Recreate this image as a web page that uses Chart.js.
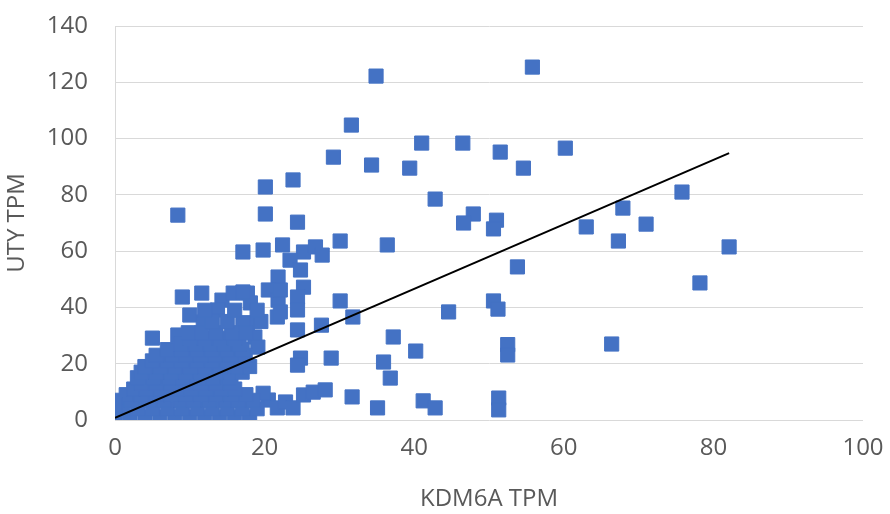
<!DOCTYPE html>
<html>
<head>
<meta charset="utf-8">
<script src="https://cdn.jsdelivr.net/npm/chart.js@4/dist/chart.umd.min.js"></script>
<style>
  html, body { margin: 0; padding: 0; background: #ffffff; }
  #wrap { width: 890px; height: 514px; }
</style>
</head>
<body>
<div id="wrap"><canvas id="chart" width="890" height="514"></canvas></div>
<script>
// KDM6A vs UTY expression (TPM)
const kdm6aTpm = [
  // scattered points
  55.8, 34.9, 31.6, 46.5, 41.0, 60.2, 51.5, 29.2, 34.3, 39.4, 54.6, 23.8, 20.1, 75.8, 42.8,
  67.9, 8.4, 20.1, 47.9, 51.0, 46.6, 24.4, 71.0, 63.0, 50.6, 67.3, 30.1, 36.4, 82.1, 78.2,
  53.8, 30.1, 50.6, 51.2, 44.6, 31.8, 27.6, 37.2, 52.5, 52.5, 66.4, 40.2, 35.9, 36.8, 28.9,
  24.8, 24.4, 31.7, 35.1, 41.2, 42.8, 51.3, 51.3,
  // low band 19-28
  20.5, 21.7, 22.8, 23.8, 25.2, 26.5, 28.1, 19.8,
  // mid cluster
  17.1, 19.8, 22.4, 25.2, 26.8, 27.7, 23.4, 24.8, 21.8, 20.5, 25.2, 21.8, 24.4, 21.7, 24.4,
  24.4, 17.7, 18.1, 17.7, 18.7, 19.1, 9.0, 11.6, 14.3, 15.8, 17.1, 10.0, 11.8, 13.7, 17.1,
  5.0, 8.4, 22.1, 22.1,
  // dense blob near origin
  0.0, 2.0, 4.0, 6.0, 8.0, 10.0, 12.0, 14.0, 16.0, 18.0,
  1.0, 3.0, 5.0, 7.0, 9.0, 11.0, 13.0, 15.0, 17.0, 19.0,
  0.3, 2.2, 4.5, 6.5, 8.8, 10.5, 12.6, 14.8, 16.5, 18.4,
  1.5, 3.5, 5.5, 7.5, 9.5, 11.5, 13.5, 15.5, 17.5,
  2.5, 4.2, 6.2, 8.3, 10.2, 12.2, 14.2, 16.0,
  3.5, 5.5, 7.5, 9.5, 11.5, 13.5, 15.5,
  3.0, 5.1, 7.2, 9.1, 11.3, 13.1, 15.3,
  3.5, 5.5, 7.5, 9.5, 11.5, 13.5, 15.5, 17.0,
  4.0, 6.0, 8.0, 10.1, 12.0, 14.1, 16.4, 18.0,
  5.0, 7.0, 9.0, 11.0, 13.0, 15.0, 17.0,
  5.5, 7.6, 9.5, 11.5, 13.4, 15.5, 17.4,
  7.0, 9.0, 11.0, 13.0, 15.0, 17.0,
  8.8, 10.8, 12.8, 14.6, 16.6,
  10.0, 12.0, 14.0, 16.0,
  9.8, 11.6, 13.5, 15.6, 17.5,
  13.0, 15.0, 19.5,
  12.0, 16.0, 19.0,
  0.0, 0.0, 0.0
];
const utyTpm = [
  125.4, 122.2, 104.8, 98.4, 98.4, 96.6, 95.2, 93.4, 90.6, 89.5, 89.5, 85.3, 82.8, 81.0, 78.5,
  75.3, 72.8, 73.2, 73.2, 71.0, 70.0, 70.3, 69.6, 68.6, 67.9, 63.6, 63.6, 62.2, 61.5, 48.7,
  54.4, 42.3, 42.3, 39.4, 38.4, 36.6, 33.7, 29.5, 26.8, 23.1, 27.0, 24.5, 20.6, 14.9, 22.0,
  22.0, 19.5, 8.2, 4.3, 6.8, 4.3, 7.8, 3.6,
  7.1, 4.3, 6.4, 4.3, 8.9, 9.9, 10.7, 9.5,
  59.7, 60.4, 62.2, 59.7, 61.5, 58.6, 56.8, 53.3, 50.8, 46.2, 47.2, 42.6, 43.7, 36.6, 39.1,
  32.0, 45.1, 41.6, 34.5, 29.5, 25.9, 43.7, 45.1, 42.6, 45.1, 45.5, 37.3, 34.8, 39.1, 34.5,
  29.1, 30.2, 46.2, 38.4,
  1, 1, 1, 1, 1, 1, 1, 1, 1, 1,
  4, 4, 4, 4, 4, 4, 4, 4, 4, 4,
  7, 7, 7, 7, 7, 7, 7, 7, 7, 7,
  9, 9, 9, 9, 9, 9, 9, 9, 9,
  11, 11, 11, 11, 11, 11, 11, 11,
  13, 13, 13, 13, 13, 13, 13,
  15, 15, 15, 15, 15, 15, 15,
  17, 17, 17, 17, 17, 17, 17, 17,
  19, 19, 19, 19, 19, 19, 19, 19,
  21, 21, 21, 21, 21, 21, 21,
  23, 23, 23, 23, 23, 23, 23,
  25, 25, 25, 25, 25, 25,
  27, 27, 27, 27, 27,
  29, 29, 29, 29,
  31, 31, 31, 31, 31,
  35, 35, 35,
  39, 39, 39,
  0, 3, 5.5
];
// linear trendline end points
const trendX = [0, 82.1];
const trendY = [0.8, 94.8];

const xTicks = [0, 20, 40, 60, 80, 100];
const yTicks = [0, 20, 40, 60, 80, 100, 120, 140];

const TEXT = '#595959';
const GRID = '#d9d9d9';
const FONT = { family: '"Open Sans", sans-serif', size: 24 };

const points = kdm6aTpm.map((x, i) => ({ x: x, y: utyTpm[i] }));
const trend = trendX.map((x, i) => ({ x: x, y: trendY[i] }));

new Chart(document.getElementById('chart'), {
  type: 'scatter',
  data: {
    datasets: [
      {
        type: 'line',
        data: trend,
        borderColor: '#000000',
        borderWidth: 2,
        pointRadius: 0,
        fill: false,
        order: 0,
      },
      {
        data: points,
        pointStyle: 'rect',
        pointRadius: 10,
        backgroundColor: '#4472c4',
        borderColor: '#4472c4',
        borderWidth: 1,
        order: 1,
      },
    ],
  },
  options: {
    responsive: false,
    animation: false,
    layout: { padding: { left: 0, right: 27, top: 26, bottom: 0 } },
    plugins: { legend: { display: false }, tooltip: { enabled: false } },
    scales: {
      x: {
        type: 'linear',
        min: 0,
        max: 100,
        afterBuildTicks: (s) => { s.ticks = xTicks.map(v => ({ value: v })); },
        afterFit: (s) => { s.height = 94; s.paddingLeft = 0; s.paddingRight = 0; },
        grid: { display: false, drawTicks: false },
        border: { display: false },
        ticks: { color: TEXT, font: FONT, padding: 14, maxRotation: 0 },
        title: {
          display: true,
          text: 'KDM6A TPM',
          color: TEXT,
          font: FONT,
          padding: { top: 0, bottom: 0 },
        },
      },
      y: {
        type: 'linear',
        min: 0,
        max: 140,
        afterBuildTicks: (s) => { s.ticks = yTicks.map(v => ({ value: v })); },
        afterFit: (s) => { s.width = 115; s.paddingTop = 0; s.paddingBottom = 0; },
        grid: { color: GRID, lineWidth: 1, drawTicks: false },
        border: { display: true, color: GRID, width: 1 },
        ticks: { color: TEXT, font: FONT, padding: 27 },
        title: {
          display: true,
          text: 'UTY TPM',
          color: TEXT,
          font: FONT,
          padding: { top: 3, bottom: 0 },
        },
      },
    },
  },
});
</script>
</body>
</html>
